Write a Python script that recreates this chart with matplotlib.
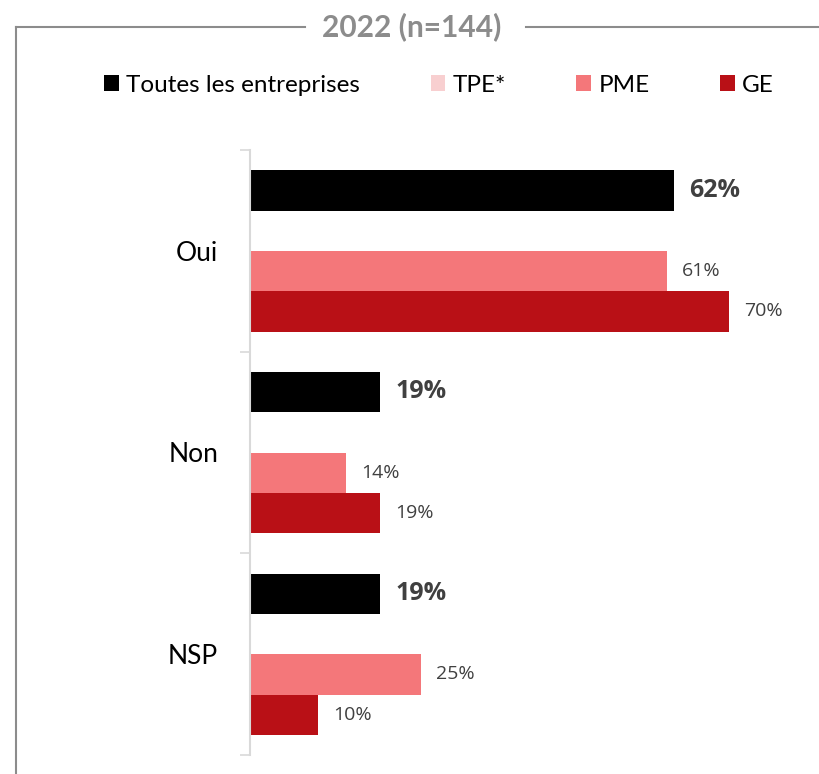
import matplotlib.pyplot as plt
from matplotlib.patches import Patch
from matplotlib.lines import Line2D
import numpy as np

# data
categories = ["Oui", "Non", "NSP"]
series_names = ["Toutes les entreprises", "TPE*", "PME", "GE"]
toutes = [62, 19, 19]
tpe = [np.nan, np.nan, np.nan]   # pas de barre affichée
pme = [61, 14, 25]
ge = [70, 19, 10]
title = "2022 (n=144)"

colors = ["#000000", "#F8CFD0", "#F4777A", "#B91016"]
plt.rcParams['font.family'] = ['Lato', 'DejaVu Sans']
val_font = ['Open Sans', 'DejaVu Sans']

fig = plt.figure(figsize=(8.19, 7.74), dpi=100)
W, H = 819, 774

# axes placed in pixel coordinates
ax_left, ax_right, ax_top, ax_bottom = 250, 810, 150, 755
ax = fig.add_axes([ax_left / W, 1 - ax_bottom / H, (ax_right - ax_left) / W, (ax_bottom - ax_top) / H])

y = np.arange(len(categories))
h = 0.2
offsets = [-0.3, -0.1, 0.1, 0.3]
all_series = [toutes, tpe, pme, ge]

for k, vals in enumerate(all_series):
    bars = ax.barh(y + offsets[k], vals, height=h, color=colors[k], edgecolor='none')
    for b, v in zip(bars, vals):
        if np.isnan(v):
            continue
        cy = b.get_y() + b.get_height() / 2
        if k == 0:
            ax.text(v + 2.2, cy, "%d%%" % v, va='center', ha='left', family=val_font,
                    fontsize=18, fontweight='bold', color='#404040')
        else:
            ax.text(v + 2.2, cy, "%d%%" % v, va='center', ha='left', family=val_font,
                    fontsize=14, color='#404040')

ax.set_xlim(0, (ax_right - ax_left) / 6.84)
ax.set_ylim(len(categories) - 0.5, -0.5)

ax.set_yticks(y)
ax.set_yticklabels(categories, fontsize=19)
ax.set_yticks(np.arange(len(categories) + 1) - 0.5, minor=True)
ax.tick_params(axis='y', which='major', length=0, pad=23)
ax.tick_params(axis='y', which='minor', length=7, width=1.2, color='#D9D9D9')
ax.set_xticks([])
for s in ['top', 'right', 'bottom']:
    ax.spines[s].set_visible(False)
ax.spines['left'].set_color('#D9D9D9')
ax.spines['left'].set_linewidth(1.5)

# legend
handles = [Patch(facecolor=c, edgecolor='none') for c in colors]
fig.legend(handles, series_names, loc='center', bbox_to_anchor=(439 / W, 1 - 85 / H),
           ncol=4, frameon=False, fontsize=17.5, handlelength=0.6, handleheight=0.6,
           handletextpad=0.3, columnspacing=2.9)

# frame and title
fc = '#8C8C8C'
fig.add_artist(Line2D([16 / W, 16 / W], [0, 1 - 27 / H], color=fc, lw=1.5))
fig.add_artist(Line2D([16 / W, 305 / W], [1 - 27 / H, 1 - 27 / H], color=fc, lw=1.5))
fig.add_artist(Line2D([526 / W, 1], [1 - 27 / H, 1 - 27 / H], color=fc, lw=1.5))
fig.text(412 / W, 1 - 27 / H, title, ha='center', va='center', fontsize=21.5,
         fontweight='bold', color='#8C8C8C')

fig.savefig("out.png", dpi=100)
